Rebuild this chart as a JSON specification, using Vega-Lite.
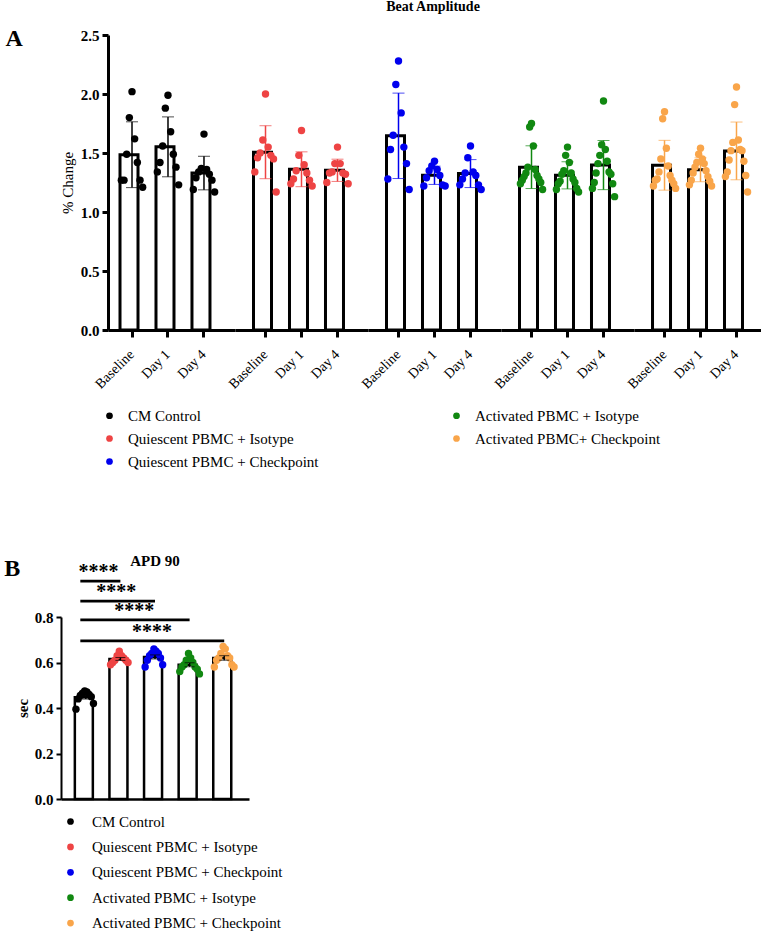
{
  "$schema": "https://vega.github.io/schema/vega-lite/v6.json",
  "padding": {"left": 4, "top": 0, "right": 0, "bottom": 0},
  "background": "white",
  "config": {
    "view": {"stroke": null},
    "font": "Liberation Serif",
    "axis": {"domainColor": "black", "tickColor": "black", "labelColor": "black", "titleColor": "black", "grid": false, "labelFont": "Liberation Serif", "titleFont": "Liberation Serif"},
    "legend": {"labelFont": "Liberation Serif", "labelColor": "black", "labelLimit": 400},
    "title": {"font": "Liberation Serif", "color": "black", "fontWeight": "bold"},
    "text": {"font": "Liberation Serif"}
  },
  "datasets": {
    "beat": [
      {"group":"CM Control","day":"Baseline","rep":5,"value":2.02},{"group":"CM Control","day":"Baseline","rep":4,"value":1.80},{"group":"CM Control","day":"Baseline","rep":6,"value":1.62},{"group":"CM Control","day":"Baseline","rep":3,"value":1.49},{"group":"CM Control","day":"Baseline","rep":7,"value":1.42},{"group":"CM Control","day":"Baseline","rep":2,"value":1.27},{"group":"CM Control","day":"Baseline","rep":8,"value":1.27},{"group":"CM Control","day":"Baseline","rep":1,"value":1.27},{"group":"CM Control","day":"Baseline","rep":9,"value":1.21},
      {"group":"CM Control","day":"Day 1","rep":5,"value":1.99},{"group":"CM Control","day":"Day 1","rep":4,"value":1.88},{"group":"CM Control","day":"Day 1","rep":6,"value":1.68},{"group":"CM Control","day":"Day 1","rep":3,"value":1.56},{"group":"CM Control","day":"Day 1","rep":7,"value":1.49},{"group":"CM Control","day":"Day 1","rep":2,"value":1.42},{"group":"CM Control","day":"Day 1","rep":8,"value":1.38},{"group":"CM Control","day":"Day 1","rep":1,"value":1.34},{"group":"CM Control","day":"Day 1","rep":9,"value":1.23},
      {"group":"CM Control","day":"Day 4","rep":5,"value":1.66},{"group":"CM Control","day":"Day 4","rep":4,"value":1.37},{"group":"CM Control","day":"Day 4","rep":6,"value":1.36},{"group":"CM Control","day":"Day 4","rep":3,"value":1.34},{"group":"CM Control","day":"Day 4","rep":7,"value":1.32},{"group":"CM Control","day":"Day 4","rep":2,"value":1.29},{"group":"CM Control","day":"Day 4","rep":8,"value":1.27},{"group":"CM Control","day":"Day 4","rep":1,"value":1.19},{"group":"CM Control","day":"Day 4","rep":9,"value":1.17},
      {"group":"Quiescent PBMC + Isotype","day":"Baseline","rep":5,"value":2.00},{"group":"Quiescent PBMC + Isotype","day":"Baseline","rep":4,"value":1.61},{"group":"Quiescent PBMC + Isotype","day":"Baseline","rep":6,"value":1.55},{"group":"Quiescent PBMC + Isotype","day":"Baseline","rep":3,"value":1.50},{"group":"Quiescent PBMC + Isotype","day":"Baseline","rep":7,"value":1.48},{"group":"Quiescent PBMC + Isotype","day":"Baseline","rep":2,"value":1.46},{"group":"Quiescent PBMC + Isotype","day":"Baseline","rep":8,"value":1.45},{"group":"Quiescent PBMC + Isotype","day":"Baseline","rep":1,"value":1.34},{"group":"Quiescent PBMC + Isotype","day":"Baseline","rep":9,"value":1.17},
      {"group":"Quiescent PBMC + Isotype","day":"Day 1","rep":5,"value":1.69},{"group":"Quiescent PBMC + Isotype","day":"Day 1","rep":4,"value":1.48},{"group":"Quiescent PBMC + Isotype","day":"Day 1","rep":6,"value":1.40},{"group":"Quiescent PBMC + Isotype","day":"Day 1","rep":3,"value":1.35},{"group":"Quiescent PBMC + Isotype","day":"Day 1","rep":7,"value":1.33},{"group":"Quiescent PBMC + Isotype","day":"Day 1","rep":2,"value":1.28},{"group":"Quiescent PBMC + Isotype","day":"Day 1","rep":8,"value":1.27},{"group":"Quiescent PBMC + Isotype","day":"Day 1","rep":1,"value":1.24},{"group":"Quiescent PBMC + Isotype","day":"Day 1","rep":9,"value":1.22},
      {"group":"Quiescent PBMC + Isotype","day":"Day 4","rep":5,"value":1.55},{"group":"Quiescent PBMC + Isotype","day":"Day 4","rep":4,"value":1.41},{"group":"Quiescent PBMC + Isotype","day":"Day 4","rep":6,"value":1.41},{"group":"Quiescent PBMC + Isotype","day":"Day 4","rep":3,"value":1.34},{"group":"Quiescent PBMC + Isotype","day":"Day 4","rep":7,"value":1.33},{"group":"Quiescent PBMC + Isotype","day":"Day 4","rep":2,"value":1.33},{"group":"Quiescent PBMC + Isotype","day":"Day 4","rep":8,"value":1.32},{"group":"Quiescent PBMC + Isotype","day":"Day 4","rep":1,"value":1.25},{"group":"Quiescent PBMC + Isotype","day":"Day 4","rep":9,"value":1.24},
      {"group":"Quiescent PBMC + Checkpoint","day":"Baseline","rep":5,"value":2.28},{"group":"Quiescent PBMC + Checkpoint","day":"Baseline","rep":4,"value":2.08},{"group":"Quiescent PBMC + Checkpoint","day":"Baseline","rep":6,"value":1.84},{"group":"Quiescent PBMC + Checkpoint","day":"Baseline","rep":3,"value":1.65},{"group":"Quiescent PBMC + Checkpoint","day":"Baseline","rep":7,"value":1.55},{"group":"Quiescent PBMC + Checkpoint","day":"Baseline","rep":2,"value":1.53},{"group":"Quiescent PBMC + Checkpoint","day":"Baseline","rep":8,"value":1.41},{"group":"Quiescent PBMC + Checkpoint","day":"Baseline","rep":1,"value":1.28},{"group":"Quiescent PBMC + Checkpoint","day":"Baseline","rep":9,"value":1.19},
      {"group":"Quiescent PBMC + Checkpoint","day":"Day 1","rep":5,"value":1.43},{"group":"Quiescent PBMC + Checkpoint","day":"Day 1","rep":4,"value":1.39},{"group":"Quiescent PBMC + Checkpoint","day":"Day 1","rep":6,"value":1.36},{"group":"Quiescent PBMC + Checkpoint","day":"Day 1","rep":3,"value":1.35},{"group":"Quiescent PBMC + Checkpoint","day":"Day 1","rep":7,"value":1.31},{"group":"Quiescent PBMC + Checkpoint","day":"Day 1","rep":2,"value":1.29},{"group":"Quiescent PBMC + Checkpoint","day":"Day 1","rep":8,"value":1.23},{"group":"Quiescent PBMC + Checkpoint","day":"Day 1","rep":1,"value":1.22},{"group":"Quiescent PBMC + Checkpoint","day":"Day 1","rep":9,"value":1.22},
      {"group":"Quiescent PBMC + Checkpoint","day":"Day 4","rep":5,"value":1.56},{"group":"Quiescent PBMC + Checkpoint","day":"Day 4","rep":4,"value":1.46},{"group":"Quiescent PBMC + Checkpoint","day":"Day 4","rep":6,"value":1.34},{"group":"Quiescent PBMC + Checkpoint","day":"Day 4","rep":3,"value":1.33},{"group":"Quiescent PBMC + Checkpoint","day":"Day 4","rep":7,"value":1.31},{"group":"Quiescent PBMC + Checkpoint","day":"Day 4","rep":2,"value":1.28},{"group":"Quiescent PBMC + Checkpoint","day":"Day 4","rep":8,"value":1.23},{"group":"Quiescent PBMC + Checkpoint","day":"Day 4","rep":1,"value":1.23},{"group":"Quiescent PBMC + Checkpoint","day":"Day 4","rep":9,"value":1.19},
      {"group":"Activated PBMC + Isotype","day":"Baseline","rep":7,"value":1.75},{"group":"Activated PBMC + Isotype","day":"Baseline","rep":6,"value":1.72},{"group":"Activated PBMC + Isotype","day":"Baseline","rep":8,"value":1.56},{"group":"Activated PBMC + Isotype","day":"Baseline","rep":5,"value":1.38},{"group":"Activated PBMC + Isotype","day":"Baseline","rep":9,"value":1.36},{"group":"Activated PBMC + Isotype","day":"Baseline","rep":4,"value":1.33},{"group":"Activated PBMC + Isotype","day":"Baseline","rep":10,"value":1.31},{"group":"Activated PBMC + Isotype","day":"Baseline","rep":3,"value":1.30},{"group":"Activated PBMC + Isotype","day":"Baseline","rep":11,"value":1.28},{"group":"Activated PBMC + Isotype","day":"Baseline","rep":2,"value":1.27},{"group":"Activated PBMC + Isotype","day":"Baseline","rep":12,"value":1.25},{"group":"Activated PBMC + Isotype","day":"Baseline","rep":1,"value":1.24},{"group":"Activated PBMC + Isotype","day":"Baseline","rep":13,"value":1.19},
      {"group":"Activated PBMC + Isotype","day":"Day 1","rep":7,"value":1.55},{"group":"Activated PBMC + Isotype","day":"Day 1","rep":6,"value":1.48},{"group":"Activated PBMC + Isotype","day":"Day 1","rep":8,"value":1.42},{"group":"Activated PBMC + Isotype","day":"Day 1","rep":5,"value":1.35},{"group":"Activated PBMC + Isotype","day":"Day 1","rep":9,"value":1.33},{"group":"Activated PBMC + Isotype","day":"Day 1","rep":4,"value":1.32},{"group":"Activated PBMC + Isotype","day":"Day 1","rep":10,"value":1.28},{"group":"Activated PBMC + Isotype","day":"Day 1","rep":3,"value":1.26},{"group":"Activated PBMC + Isotype","day":"Day 1","rep":11,"value":1.25},{"group":"Activated PBMC + Isotype","day":"Day 1","rep":2,"value":1.24},{"group":"Activated PBMC + Isotype","day":"Day 1","rep":12,"value":1.20},{"group":"Activated PBMC + Isotype","day":"Day 1","rep":1,"value":1.19},{"group":"Activated PBMC + Isotype","day":"Day 1","rep":13,"value":1.17},
      {"group":"Activated PBMC + Isotype","day":"Day 4","rep":7,"value":1.94},{"group":"Activated PBMC + Isotype","day":"Day 4","rep":6,"value":1.57},{"group":"Activated PBMC + Isotype","day":"Day 4","rep":8,"value":1.53},{"group":"Activated PBMC + Isotype","day":"Day 4","rep":5,"value":1.48},{"group":"Activated PBMC + Isotype","day":"Day 4","rep":9,"value":1.43},{"group":"Activated PBMC + Isotype","day":"Day 4","rep":4,"value":1.41},{"group":"Activated PBMC + Isotype","day":"Day 4","rep":10,"value":1.34},{"group":"Activated PBMC + Isotype","day":"Day 4","rep":3,"value":1.33},{"group":"Activated PBMC + Isotype","day":"Day 4","rep":11,"value":1.32},{"group":"Activated PBMC + Isotype","day":"Day 4","rep":2,"value":1.25},{"group":"Activated PBMC + Isotype","day":"Day 4","rep":12,"value":1.24},{"group":"Activated PBMC + Isotype","day":"Day 4","rep":1,"value":1.20},{"group":"Activated PBMC + Isotype","day":"Day 4","rep":13,"value":1.13},
      {"group":"Activated PBMC+ Checkpoint","day":"Baseline","rep":7,"value":1.85},{"group":"Activated PBMC+ Checkpoint","day":"Baseline","rep":6,"value":1.79},{"group":"Activated PBMC+ Checkpoint","day":"Baseline","rep":8,"value":1.54},{"group":"Activated PBMC+ Checkpoint","day":"Baseline","rep":5,"value":1.45},{"group":"Activated PBMC+ Checkpoint","day":"Baseline","rep":9,"value":1.39},{"group":"Activated PBMC+ Checkpoint","day":"Baseline","rep":4,"value":1.34},{"group":"Activated PBMC+ Checkpoint","day":"Baseline","rep":10,"value":1.31},{"group":"Activated PBMC+ Checkpoint","day":"Baseline","rep":3,"value":1.28},{"group":"Activated PBMC+ Checkpoint","day":"Baseline","rep":11,"value":1.27},{"group":"Activated PBMC+ Checkpoint","day":"Baseline","rep":2,"value":1.27},{"group":"Activated PBMC+ Checkpoint","day":"Baseline","rep":12,"value":1.24},{"group":"Activated PBMC+ Checkpoint","day":"Baseline","rep":1,"value":1.22},{"group":"Activated PBMC+ Checkpoint","day":"Baseline","rep":13,"value":1.20},
      {"group":"Activated PBMC+ Checkpoint","day":"Day 1","rep":7,"value":1.54},{"group":"Activated PBMC+ Checkpoint","day":"Day 1","rep":6,"value":1.49},{"group":"Activated PBMC+ Checkpoint","day":"Day 1","rep":8,"value":1.45},{"group":"Activated PBMC+ Checkpoint","day":"Day 1","rep":5,"value":1.42},{"group":"Activated PBMC+ Checkpoint","day":"Day 1","rep":9,"value":1.41},{"group":"Activated PBMC+ Checkpoint","day":"Day 1","rep":4,"value":1.38},{"group":"Activated PBMC+ Checkpoint","day":"Day 1","rep":10,"value":1.35},{"group":"Activated PBMC+ Checkpoint","day":"Day 1","rep":3,"value":1.33},{"group":"Activated PBMC+ Checkpoint","day":"Day 1","rep":11,"value":1.30},{"group":"Activated PBMC+ Checkpoint","day":"Day 1","rep":2,"value":1.27},{"group":"Activated PBMC+ Checkpoint","day":"Day 1","rep":12,"value":1.26},{"group":"Activated PBMC+ Checkpoint","day":"Day 1","rep":1,"value":1.23},{"group":"Activated PBMC+ Checkpoint","day":"Day 1","rep":13,"value":1.22},
      {"group":"Activated PBMC+ Checkpoint","day":"Day 4","rep":7,"value":2.06},{"group":"Activated PBMC+ Checkpoint","day":"Day 4","rep":6,"value":1.91},{"group":"Activated PBMC+ Checkpoint","day":"Day 4","rep":8,"value":1.61},{"group":"Activated PBMC+ Checkpoint","day":"Day 4","rep":5,"value":1.59},{"group":"Activated PBMC+ Checkpoint","day":"Day 4","rep":9,"value":1.53},{"group":"Activated PBMC+ Checkpoint","day":"Day 4","rep":4,"value":1.52},{"group":"Activated PBMC+ Checkpoint","day":"Day 4","rep":10,"value":1.52},{"group":"Activated PBMC+ Checkpoint","day":"Day 4","rep":3,"value":1.44},{"group":"Activated PBMC+ Checkpoint","day":"Day 4","rep":11,"value":1.43},{"group":"Activated PBMC+ Checkpoint","day":"Day 4","rep":2,"value":1.34},{"group":"Activated PBMC+ Checkpoint","day":"Day 4","rep":12,"value":1.31},{"group":"Activated PBMC+ Checkpoint","day":"Day 4","rep":1,"value":1.30},{"group":"Activated PBMC+ Checkpoint","day":"Day 4","rep":13,"value":1.17}
    ],
    "apd": [
      {"group":"CM Control","rep":5,"value":0.475},{"group":"CM Control","rep":6,"value":0.47},{"group":"CM Control","rep":4,"value":0.465},{"group":"CM Control","rep":7,"value":0.46},{"group":"CM Control","rep":3,"value":0.455},{"group":"CM Control","rep":8,"value":0.45},{"group":"CM Control","rep":2,"value":0.44},{"group":"CM Control","rep":9,"value":0.42},{"group":"CM Control","rep":1,"value":0.395},
      {"group":"Quiescent PBMC + Isotype","rep":5,"value":0.65},{"group":"Quiescent PBMC + Isotype","rep":6,"value":0.63},{"group":"Quiescent PBMC + Isotype","rep":4,"value":0.63},{"group":"Quiescent PBMC + Isotype","rep":7,"value":0.62},{"group":"Quiescent PBMC + Isotype","rep":3,"value":0.61},{"group":"Quiescent PBMC + Isotype","rep":8,"value":0.61},{"group":"Quiescent PBMC + Isotype","rep":2,"value":0.60},{"group":"Quiescent PBMC + Isotype","rep":9,"value":0.60},{"group":"Quiescent PBMC + Isotype","rep":1,"value":0.59},
      {"group":"Quiescent PBMC + Checkpoint","rep":5,"value":0.66},{"group":"Quiescent PBMC + Checkpoint","rep":6,"value":0.65},{"group":"Quiescent PBMC + Checkpoint","rep":4,"value":0.64},{"group":"Quiescent PBMC + Checkpoint","rep":7,"value":0.64},{"group":"Quiescent PBMC + Checkpoint","rep":3,"value":0.63},{"group":"Quiescent PBMC + Checkpoint","rep":8,"value":0.62},{"group":"Quiescent PBMC + Checkpoint","rep":2,"value":0.61},{"group":"Quiescent PBMC + Checkpoint","rep":9,"value":0.59},{"group":"Quiescent PBMC + Checkpoint","rep":1,"value":0.58},
      {"group":"Activated PBMC + Isotype","rep":5,"value":0.64},{"group":"Activated PBMC + Isotype","rep":6,"value":0.62},{"group":"Activated PBMC + Isotype","rep":4,"value":0.61},{"group":"Activated PBMC + Isotype","rep":7,"value":0.60},{"group":"Activated PBMC + Isotype","rep":3,"value":0.59},{"group":"Activated PBMC + Isotype","rep":8,"value":0.58},{"group":"Activated PBMC + Isotype","rep":2,"value":0.58},{"group":"Activated PBMC + Isotype","rep":9,"value":0.57},{"group":"Activated PBMC + Isotype","rep":1,"value":0.56},{"group":"Activated PBMC + Isotype","rep":10,"value":0.55},
      {"group":"Activated PBMC + Checkpoint","rep":5,"value":0.67},{"group":"Activated PBMC + Checkpoint","rep":6,"value":0.66},{"group":"Activated PBMC + Checkpoint","rep":4,"value":0.64},{"group":"Activated PBMC + Checkpoint","rep":7,"value":0.63},{"group":"Activated PBMC + Checkpoint","rep":3,"value":0.62},{"group":"Activated PBMC + Checkpoint","rep":8,"value":0.62},{"group":"Activated PBMC + Checkpoint","rep":2,"value":0.61},{"group":"Activated PBMC + Checkpoint","rep":9,"value":0.59},{"group":"Activated PBMC + Checkpoint","rep":1,"value":0.58},{"group":"Activated PBMC + Checkpoint","rep":10,"value":0.58}
    ],
    "sig": [
      {"from":"CM Control","to":"Quiescent PBMC + Isotype","level":0.958,"label":"****"},
      {"from":"CM Control","to":"Quiescent PBMC + Checkpoint","level":0.870,"label":"****"},
      {"from":"CM Control","to":"Activated PBMC + Isotype","level":0.787,"label":"****"},
      {"from":"CM Control","to":"Activated PBMC + Checkpoint","level":0.695,"label":"****"}
    ]
  },
  "align": "none",
  "resolve": {"scale": {"color": "independent", "xOffset": "independent"}, "legend": {"color": "independent"}},
  "spacing": 84,
  "vconcat": [
    {
      "title": {"text": "A", "orient": "left", "anchor": "end", "frame": "bounds", "angle": 0, "align": "right", "baseline": "top", "fontSize": 24, "offset": 20, "dy": 27},
      "resolve": {"scale": {"color": "independent", "xOffset": "independent"}, "legend": {"color": "independent"}},
      "vconcat": [
        {
          "title": {"text": "Beat Amplitude", "anchor": "middle", "frame": "group", "fontSize": 14, "offset": 14, "dx": 372},
          "data": {"name": "beat"},
          "spacing": 0,
          "bounds": "flush",
          "resolve": {"scale": {"xOffset": "independent"}},
          "hconcat": [
            {"width": 47, "height": 295, "data": {"values": []}, "mark": {"type": "point"}, "encoding": {}},
            {
              "width": 127, "height": 295,
              "transform": [{"filter": {"field": "group", "equal": "CM Control"}}],
              "encoding": {
                "x": {"field": "day", "type": "nominal", "sort": ["Baseline", "Day 1", "Day 4"], "scale": {"paddingInner": 0.333, "paddingOuter": 0.431, "align": 0.387}, "axis": {"title": null, "labelAngle": -45, "labelAlign": "right", "labelBaseline": "middle", "labelFontSize": 14, "labelPadding": 15, "labelOffset": 0, "tickSize": 7, "tickWidth": 3, "domainWidth": 3}}
              },
              "layer": [
                {"mark": {"type": "bar", "fill": "white", "stroke": "black", "strokeWidth": 3},
                 "encoding": {"y": {"aggregate": "mean", "field": "value", "type": "quantitative", "title": "% Change", "scale": {"domain": [0, 2.5], "nice": false}, "axis": {"title": "% Change", "values": [0, 0.5, 1, 1.5, 2, 2.5], "format": ".1f", "labelFontSize": 15, "labelFontWeight": "bold", "labelPadding": 3, "tickSize": 6, "tickWidth": 3, "domainWidth": 3, "titleFontSize": 15, "titleFontWeight": "normal", "titlePadding": 5}}}},
                {"mark": {"type": "errorbar", "extent": "stdev", "color": "#000000", "ticks": {"size": 12}, "rule": {"strokeWidth": 1.5}},
                 "encoding": {"y": {"field": "value", "type": "quantitative", "title": "% Change", "scale": {"domain": [0, 2.5], "nice": false}}}},
                {"mark": {"type": "point", "filled": true, "size": 55, "opacity": 1},
                 "encoding": {"y": {"field": "value", "type": "quantitative", "title": "% Change", "scale": {"domain": [0, 2.5], "nice": false}}, "xOffset": {"field": "rep", "type": "ordinal"}, "color": {"field": "group", "type": "nominal", "scale": {"domain": ["CM Control", "Quiescent PBMC + Isotype", "Quiescent PBMC + Checkpoint", "Activated PBMC + Isotype", "Activated PBMC+ Checkpoint"], "range": ["#000000", "#ee4444", "#0000ee", "#118811", "#f9a54a"]}, "legend": {"title": null, "orient": "none", "legendX": 41, "legendY": 373, "columns": 2, "columnPadding": 130, "rowPadding": 7, "labelFontSize": 15, "symbolSize": 45, "labelOffset": 11, "labelLimit": 400, "symbolType": "circle", "direction": "vertical", "padding": 0}}}}
              ]
            },
            {
              "width": 133, "height": 295,
              "transform": [{"filter": {"field": "group", "equal": "Quiescent PBMC + Isotype"}}],
              "encoding": {
                "x": {"field": "day", "type": "nominal", "sort": ["Baseline", "Day 1", "Day 4"], "scale": {"paddingInner": 0.333, "paddingOuter": 0.514, "align": 0.5}, "axis": {"title": null, "labelAngle": -45, "labelAlign": "right", "labelBaseline": "middle", "labelFontSize": 14, "labelPadding": 15, "labelOffset": 0, "tickSize": 7, "tickWidth": 3, "domainWidth": 3}}
              },
              "layer": [
                {"mark": {"type": "bar", "fill": "white", "stroke": "black", "strokeWidth": 3},
                 "encoding": {"y": {"aggregate": "mean", "field": "value", "type": "quantitative", "scale": {"domain": [0, 2.5], "nice": false}, "axis": null}}},
                {"mark": {"type": "errorbar", "extent": "stdev", "color": "#ee4444", "ticks": {"size": 12}, "rule": {"strokeWidth": 1.5}},
                 "encoding": {"y": {"field": "value", "type": "quantitative", "scale": {"domain": [0, 2.5], "nice": false}, "axis": null}}},
                {"mark": {"type": "point", "filled": true, "size": 55, "opacity": 1},
                 "encoding": {"y": {"field": "value", "type": "quantitative", "scale": {"domain": [0, 2.5], "nice": false}, "axis": null}, "xOffset": {"field": "rep", "type": "ordinal"}, "color": {"field": "group", "type": "nominal", "scale": {"domain": ["CM Control", "Quiescent PBMC + Isotype", "Quiescent PBMC + Checkpoint", "Activated PBMC + Isotype", "Activated PBMC+ Checkpoint"], "range": ["#000000", "#ee4444", "#0000ee", "#118811", "#f9a54a"]}, "legend": {"title": null, "orient": "none", "legendX": 41, "legendY": 373, "columns": 2, "columnPadding": 130, "rowPadding": 7, "labelFontSize": 15, "symbolSize": 45, "labelOffset": 11, "labelLimit": 400, "symbolType": "circle", "direction": "vertical", "padding": 0}}}}
              ]
            },
            {
              "width": 133, "height": 295,
              "transform": [{"filter": {"field": "group", "equal": "Quiescent PBMC + Checkpoint"}}],
              "encoding": {
                "x": {"field": "day", "type": "nominal", "sort": ["Baseline", "Day 1", "Day 4"], "scale": {"paddingInner": 0.333, "paddingOuter": 0.514, "align": 0.5}, "axis": {"title": null, "labelAngle": -45, "labelAlign": "right", "labelBaseline": "middle", "labelFontSize": 14, "labelPadding": 15, "labelOffset": 0, "tickSize": 7, "tickWidth": 3, "domainWidth": 3}}
              },
              "layer": [
                {"mark": {"type": "bar", "fill": "white", "stroke": "black", "strokeWidth": 3},
                 "encoding": {"y": {"aggregate": "mean", "field": "value", "type": "quantitative", "scale": {"domain": [0, 2.5], "nice": false}, "axis": null}}},
                {"mark": {"type": "errorbar", "extent": "stdev", "color": "#0000ee", "ticks": {"size": 12}, "rule": {"strokeWidth": 1.5}},
                 "encoding": {"y": {"field": "value", "type": "quantitative", "scale": {"domain": [0, 2.5], "nice": false}, "axis": null}}},
                {"mark": {"type": "point", "filled": true, "size": 55, "opacity": 1},
                 "encoding": {"y": {"field": "value", "type": "quantitative", "scale": {"domain": [0, 2.5], "nice": false}, "axis": null}, "xOffset": {"field": "rep", "type": "ordinal"}, "color": {"field": "group", "type": "nominal", "scale": {"domain": ["CM Control", "Quiescent PBMC + Isotype", "Quiescent PBMC + Checkpoint", "Activated PBMC + Isotype", "Activated PBMC+ Checkpoint"], "range": ["#000000", "#ee4444", "#0000ee", "#118811", "#f9a54a"]}, "legend": {"title": null, "orient": "none", "legendX": 41, "legendY": 373, "columns": 2, "columnPadding": 130, "rowPadding": 7, "labelFontSize": 15, "symbolSize": 45, "labelOffset": 11, "labelLimit": 400, "symbolType": "circle", "direction": "vertical", "padding": 0}}}}
              ]
            },
            {
              "width": 133, "height": 295,
              "transform": [{"filter": {"field": "group", "equal": "Activated PBMC + Isotype"}}],
              "encoding": {
                "x": {"field": "day", "type": "nominal", "sort": ["Baseline", "Day 1", "Day 4"], "scale": {"paddingInner": 0.333, "paddingOuter": 0.514, "align": 0.5}, "axis": {"title": null, "labelAngle": -45, "labelAlign": "right", "labelBaseline": "middle", "labelFontSize": 14, "labelPadding": 15, "labelOffset": 0, "tickSize": 7, "tickWidth": 3, "domainWidth": 3}}
              },
              "layer": [
                {"mark": {"type": "bar", "fill": "white", "stroke": "black", "strokeWidth": 3},
                 "encoding": {"y": {"aggregate": "mean", "field": "value", "type": "quantitative", "scale": {"domain": [0, 2.5], "nice": false}, "axis": null}}},
                {"mark": {"type": "errorbar", "extent": "stdev", "color": "#118811", "ticks": {"size": 12}, "rule": {"strokeWidth": 1.5}},
                 "encoding": {"y": {"field": "value", "type": "quantitative", "scale": {"domain": [0, 2.5], "nice": false}, "axis": null}}},
                {"mark": {"type": "point", "filled": true, "size": 55, "opacity": 1},
                 "encoding": {"y": {"field": "value", "type": "quantitative", "scale": {"domain": [0, 2.5], "nice": false}, "axis": null}, "xOffset": {"field": "rep", "type": "ordinal"}, "color": {"field": "group", "type": "nominal", "scale": {"domain": ["CM Control", "Quiescent PBMC + Isotype", "Quiescent PBMC + Checkpoint", "Activated PBMC + Isotype", "Activated PBMC+ Checkpoint"], "range": ["#000000", "#ee4444", "#0000ee", "#118811", "#f9a54a"]}, "legend": {"title": null, "orient": "none", "legendX": 41, "legendY": 373, "columns": 2, "columnPadding": 130, "rowPadding": 7, "labelFontSize": 15, "symbolSize": 45, "labelOffset": 11, "labelLimit": 400, "symbolType": "circle", "direction": "vertical", "padding": 0}}}}
              ]
            },
            {
              "width": 127, "height": 295,
              "transform": [{"filter": {"field": "group", "equal": "Activated PBMC+ Checkpoint"}}],
              "encoding": {
                "x": {"field": "day", "type": "nominal", "sort": ["Baseline", "Day 1", "Day 4"], "scale": {"paddingInner": 0.333, "paddingOuter": 0.431, "align": 0.597}, "axis": {"title": null, "labelAngle": -45, "labelAlign": "right", "labelBaseline": "middle", "labelFontSize": 14, "labelPadding": 15, "labelOffset": 0, "tickSize": 7, "tickWidth": 3, "domainWidth": 3}}
              },
              "layer": [
                {"mark": {"type": "bar", "fill": "white", "stroke": "black", "strokeWidth": 3},
                 "encoding": {"y": {"aggregate": "mean", "field": "value", "type": "quantitative", "scale": {"domain": [0, 2.5], "nice": false}, "axis": null}}},
                {"mark": {"type": "errorbar", "extent": "stdev", "color": "#f9a54a", "ticks": {"size": 12}, "rule": {"strokeWidth": 1.5}},
                 "encoding": {"y": {"field": "value", "type": "quantitative", "scale": {"domain": [0, 2.5], "nice": false}, "axis": null}}},
                {"mark": {"type": "point", "filled": true, "size": 55, "opacity": 1},
                 "encoding": {"y": {"field": "value", "type": "quantitative", "scale": {"domain": [0, 2.5], "nice": false}, "axis": null}, "xOffset": {"field": "rep", "type": "ordinal"}, "color": {"field": "group", "type": "nominal", "scale": {"domain": ["CM Control", "Quiescent PBMC + Isotype", "Quiescent PBMC + Checkpoint", "Activated PBMC + Isotype", "Activated PBMC+ Checkpoint"], "range": ["#000000", "#ee4444", "#0000ee", "#118811", "#f9a54a"]}, "legend": {"title": null, "orient": "none", "legendX": 41, "legendY": 373, "columns": 2, "columnPadding": 130, "rowPadding": 7, "labelFontSize": 15, "symbolSize": 45, "labelOffset": 11, "labelLimit": 400, "symbolType": "circle", "direction": "vertical", "padding": 0}}}}
              ]
            }
          ]
        }
      ]
    },
    {
      "title": {"text": "B", "orient": "left", "anchor": "end", "frame": "bounds", "angle": 0, "align": "right", "baseline": "top", "fontSize": 24, "offset": -21, "dy": 3},
      "resolve": {"scale": {"color": "independent", "xOffset": "independent"}, "legend": {"color": "independent"}},
      "vconcat": [
        {
          "title": {"text": "APD 90", "anchor": "middle", "frame": "group", "fontSize": 15, "offset": -7},
          "width": 188, "height": 182,
          "resolve": {"scale": {"x": "independent"}},
          "layer": [
            {
              "layer": [
                {"data": {"name": "apd"},
                 "mark": {"type": "bar", "fill": "white", "stroke": "black", "strokeWidth": 2.5},
                 "encoding": {
                   "x": {"field": "group", "type": "nominal", "scale": {"domain": ["CM Control", "Quiescent PBMC + Isotype", "Quiescent PBMC + Checkpoint", "Activated PBMC + Isotype", "Activated PBMC + Checkpoint"], "paddingInner": 0.367, "paddingOuter": 0.4}, "axis": {"title": null, "labels": false, "ticks": false, "domainWidth": 2.5}},
                   "y": {"aggregate": "mean", "field": "value", "type": "quantitative", "title": "sec", "scale": {"domain": [0, 0.8], "nice": false}, "axis": {"title": "sec", "values": [0, 0.2, 0.4, 0.6, 0.8], "format": ".1f", "labelFontSize": 15, "labelFontWeight": "bold", "labelPadding": 3, "tickSize": 5, "tickWidth": 2, "domainWidth": 2, "titleFontSize": 15, "titleFontWeight": "bold", "titlePadding": 4}}
                 }},
                {"data": {"name": "apd"},
                 "mark": {"type": "point", "filled": true, "size": 55, "opacity": 1},
                 "encoding": {
                   "x": {"field": "group", "type": "nominal", "scale": {"domain": ["CM Control", "Quiescent PBMC + Isotype", "Quiescent PBMC + Checkpoint", "Activated PBMC + Isotype", "Activated PBMC + Checkpoint"], "paddingInner": 0.367, "paddingOuter": 0.4}},
                   "xOffset": {"field": "rep", "type": "ordinal"},
                   "y": {"field": "value", "type": "quantitative", "title": "sec", "scale": {"domain": [0, 0.8], "nice": false}},
                   "color": {"field": "group", "type": "nominal", "scale": {"domain": ["CM Control", "Quiescent PBMC + Isotype", "Quiescent PBMC + Checkpoint", "Activated PBMC + Isotype", "Activated PBMC + Checkpoint"], "range": ["#000000", "#ee4444", "#0000ee", "#118811", "#f9a54a"]}, "legend": {"title": null, "orient": "none", "legendX": 2, "legendY": 197, "direction": "vertical", "rowPadding": 9.4, "labelFontSize": 15, "symbolSize": 45, "labelOffset": 14, "labelLimit": 400, "symbolType": "circle", "padding": 0}}
                 }},
                {"data": {"name": "apd"},
                 "mark": {"type": "errorbar", "extent": "stderr", "color": "black", "ticks": {"size": 10}, "rule": {"strokeWidth": 1.5}},
                 "encoding": {
                   "x": {"field": "group", "type": "nominal", "scale": {"domain": ["CM Control", "Quiescent PBMC + Isotype", "Quiescent PBMC + Checkpoint", "Activated PBMC + Isotype", "Activated PBMC + Checkpoint"], "paddingInner": 0.367, "paddingOuter": 0.4}},
                   "y": {"field": "value", "type": "quantitative", "title": "sec", "scale": {"domain": [0, 0.8], "nice": false}}
                 }},
                {"data": {"name": "sig"},
                 "mark": {"type": "rule", "color": "black", "strokeWidth": 2.7},
                 "encoding": {
                   "x": {"field": "from", "type": "nominal", "bandPosition": 0.25, "scale": {"domain": ["CM Control", "Quiescent PBMC + Isotype", "Quiescent PBMC + Checkpoint", "Activated PBMC + Isotype", "Activated PBMC + Checkpoint"], "paddingInner": 0.367, "paddingOuter": 0.4}},
                   "x2": {"field": "to"},
                   "y": {"field": "level", "type": "quantitative", "title": "sec", "scale": {"domain": [0, 0.8], "nice": false}}
                 }}
              ]
            },
            {"data": {"name": "sig"},
             "mark": {"type": "text", "fontSize": 20, "fontWeight": "bold", "baseline": "alphabetic", "dy": -3, "color": "black"},
             "encoding": {
               "x": {"field": "to", "type": "nominal", "scale": {"type": "point", "domain": ["Quiescent PBMC + Isotype", "Quiescent PBMC + Checkpoint", "Activated PBMC + Isotype", "Activated PBMC + Checkpoint"], "range": [37.5, 91], "padding": 0}, "axis": null},
               "y": {"field": "level", "type": "quantitative", "title": "sec", "scale": {"domain": [0, 0.8], "nice": false}},
               "text": {"field": "label"}
             }}
          ]
        }
      ]
    }
  ]
}
